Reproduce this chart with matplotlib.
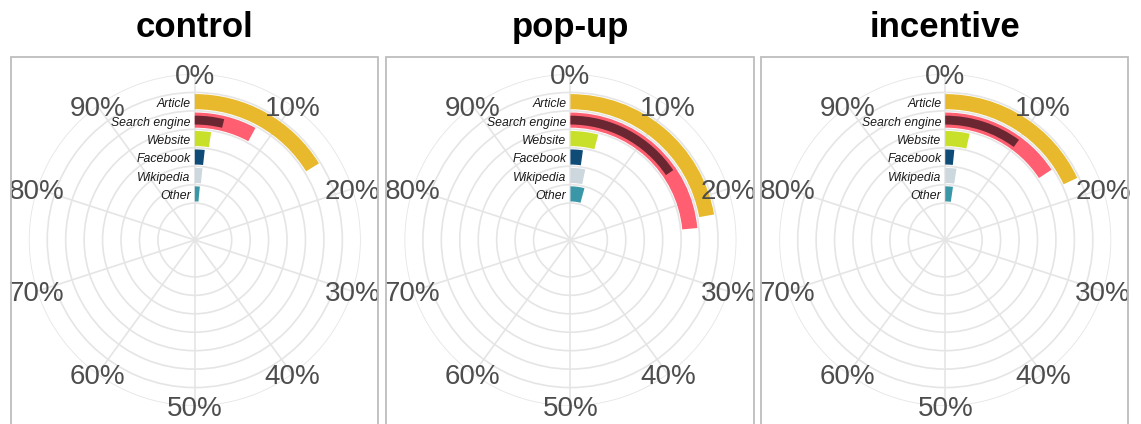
import numpy as np
import matplotlib
matplotlib.use("Agg")
import matplotlib.pyplot as plt
from matplotlib.patches import Rectangle
from matplotlib.transforms import offset_copy

plt.rcParams['font.family'] = ['Liberation Sans', 'DejaVu Sans']

# data (percent of respondents), inner ring -> outer ring
categories = ['Other', 'Wikipedia', 'Facebook', 'Website', 'Search engine', 'Article']
colors = ['#3A97A8', '#CDD8DE', '#0E4B77', '#C9E02B', '#FF5F70', '#E8B92C']

panels = ['control', 'pop-up', 'incentive']
control = [1.5, 1.7, 1.75, 2.4, 7.9, 16.2]
popup = [4.2, 3.3, 2.2, 4.1, 23.5, 22.2]
incentive = [2.3, 2.5, 1.6, 3.6, 15.7, 18.0]
values = [control, popup, incentive]

# darker inner bar on the search engine ring
search_inner = [3.8, 15.5, 10.1]
inner_color = '#6B2731'

tick_labels = [f'{i * 10}%' for i in range(10)]


#----------------------------------------------------------------------------------------------------
W, H = 1141, 424
fig = plt.figure(figsize=(W / 100, H / 100), dpi=100)

frames = [(10.7, 377.7), (385.7, 754.0), (761.3, 1128.0)]
R = 166          # pixel radius of r = 9
cy = 240         # pixel row of the centre (from top)

r_pos = np.arange(len(categories)) + 2.5

for k, (name, vals) in enumerate(zip(panels, values)):

    x0, x1 = frames[k]
    cx = (x0 + x1) / 2 + 0.6

    # panel border
    fig.add_artist(Rectangle((x0 / W, -0.2), (x1 - x0) / W, 0.2 + (H - 57.3) / H,
                             transform=fig.transFigure, fill=False,
                             ec='#BDBDBD', lw=1.3))

    fig.text(cx / W, (H - 37) / H, name, ha='center', va='baseline',
             fontsize=25, fontweight='bold', color='black')

    ax = fig.add_axes([(cx - R) / W, (H - cy - R) / H, 2 * R / W, 2 * R / H],
                      projection='polar')
    ax.set_theta_zero_location('N')
    ax.set_theta_direction(-1)
    ax.set_ylim(0, 9)
    ax.set_facecolor('none')
    ax.spines['polar'].set_visible(False)
    ax.set_axisbelow(True)

    ax.set_xticks(np.linspace(0, 2 * np.pi, 10, endpoint=False))
    ax.set_xticklabels([])
    ax.set_yticks(np.arange(2, 10))
    ax.set_yticklabels([])
    ax.grid(True, color='#E5E5E5', lw=1.2)
    ax.tick_params(length=0)

    theta = np.array(vals) / 100 * 2 * np.pi
    ax.barh(r_pos, theta, height=0.82, left=0, color=colors, lw=0)
    ax.barh(r_pos[4], search_inner[k] / 100 * 2 * np.pi, height=0.48, left=0,
            color=inner_color, lw=0)

    for i, lab in enumerate(tick_labels):
        ax.text(i / 10 * 2 * np.pi, 9, lab, ha='center', va='center_baseline',
                fontsize=20, color='#4D4D4D')

    shift = offset_copy(ax.transData, fig=fig, x=-4, y=-2.5, units='dots')
    for r, lab in zip(r_pos, categories):
        ax.text(0, r, lab, transform=shift, ha='right', va='center',
                fontsize=8.8, style='italic', color='#1A1A1A')

fig.savefig('out.png', dpi=100)
